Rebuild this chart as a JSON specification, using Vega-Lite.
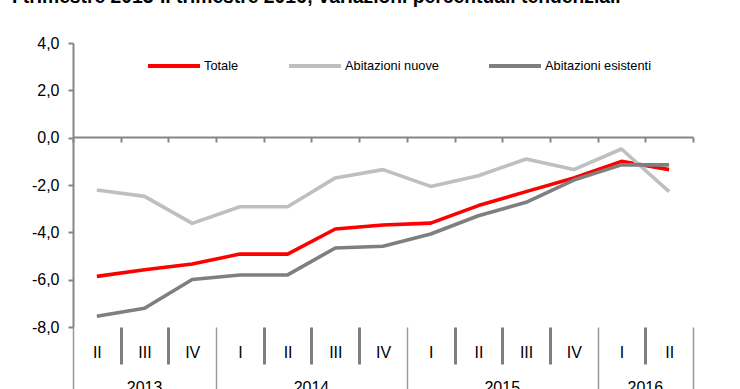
{
  "$schema": "https://vega.github.io/schema/vega-lite/v6.json",
  "autosize": {"type": "none"},
  "width": 620,
  "height": 284,
  "padding": {"left": 73, "top": 43, "right": 47, "bottom": 62},
  "title": {
    "text": "I trimestre 2013-II trimestre 2016; variazioni percentuali tendenziali",
    "anchor": "start",
    "frame": "group",
    "dx": -61,
    "offset": 9,
    "fontSize": 19.3,
    "fontWeight": "bold",
    "font": "Liberation Sans",
    "color": "#000000",
    "baseline": "bottom"
  },
  "datasets": {
    "serie": [
      {"q": "2013-II", "serie": "Totale", "valore": -5.86},
      {"q": "2013-III", "serie": "Totale", "valore": -5.58},
      {"q": "2013-IV", "serie": "Totale", "valore": -5.34},
      {"q": "2014-I", "serie": "Totale", "valore": -4.92},
      {"q": "2014-II", "serie": "Totale", "valore": -4.92},
      {"q": "2014-III", "serie": "Totale", "valore": -3.86},
      {"q": "2014-IV", "serie": "Totale", "valore": -3.69},
      {"q": "2015-I", "serie": "Totale", "valore": -3.61},
      {"q": "2015-II", "serie": "Totale", "valore": -2.87},
      {"q": "2015-III", "serie": "Totale", "valore": -2.28},
      {"q": "2015-IV", "serie": "Totale", "valore": -1.70},
      {"q": "2016-I", "serie": "Totale", "valore": -1.00},
      {"q": "2016-II", "serie": "Totale", "valore": -1.35},
      {"q": "2013-II", "serie": "Abitazioni nuove", "valore": -2.21},
      {"q": "2013-III", "serie": "Abitazioni nuove", "valore": -2.48},
      {"q": "2013-IV", "serie": "Abitazioni nuove", "valore": -3.62},
      {"q": "2014-I", "serie": "Abitazioni nuove", "valore": -2.92},
      {"q": "2014-II", "serie": "Abitazioni nuove", "valore": -2.92},
      {"q": "2014-III", "serie": "Abitazioni nuove", "valore": -1.70},
      {"q": "2014-IV", "serie": "Abitazioni nuove", "valore": -1.35},
      {"q": "2015-I", "serie": "Abitazioni nuove", "valore": -2.06},
      {"q": "2015-II", "serie": "Abitazioni nuove", "valore": -1.61},
      {"q": "2015-III", "serie": "Abitazioni nuove", "valore": -0.90},
      {"q": "2015-IV", "serie": "Abitazioni nuove", "valore": -1.35},
      {"q": "2016-I", "serie": "Abitazioni nuove", "valore": -0.48},
      {"q": "2016-II", "serie": "Abitazioni nuove", "valore": -2.28},
      {"q": "2013-II", "serie": "Abitazioni esistenti", "valore": -7.55},
      {"q": "2013-III", "serie": "Abitazioni esistenti", "valore": -7.21},
      {"q": "2013-IV", "serie": "Abitazioni esistenti", "valore": -5.99},
      {"q": "2014-I", "serie": "Abitazioni esistenti", "valore": -5.80},
      {"q": "2014-II", "serie": "Abitazioni esistenti", "valore": -5.80},
      {"q": "2014-III", "serie": "Abitazioni esistenti", "valore": -4.66},
      {"q": "2014-IV", "serie": "Abitazioni esistenti", "valore": -4.59},
      {"q": "2015-I", "serie": "Abitazioni esistenti", "valore": -4.07},
      {"q": "2015-II", "serie": "Abitazioni esistenti", "valore": -3.30},
      {"q": "2015-III", "serie": "Abitazioni esistenti", "valore": -2.73},
      {"q": "2015-IV", "serie": "Abitazioni esistenti", "valore": -1.79},
      {"q": "2016-I", "serie": "Abitazioni esistenti", "valore": -1.15},
      {"q": "2016-II", "serie": "Abitazioni esistenti", "valore": -1.15}
    ],
    "anni": [
      {"anno": "2013", "q": "2013-III"},
      {"anno": "2014", "q": "2014-III"},
      {"anno": "2015", "q": "2015-III"},
      {"anno": "2016", "q": "2016-II"}
    ]
  },
  "layer": [
    {
      "data": {"name": "serie"},
      "mark": {"type": "line", "strokeWidth": 3.6, "strokeJoin": "round"},
      "encoding": {
        "x": {
          "field": "q",
          "type": "nominal",
          "bandPosition": 0.5,
          "scale": {
            "type": "band",
            "domain": ["2013-II", "2013-III", "2013-IV", "2014-I", "2014-II", "2014-III", "2014-IV", "2015-I", "2015-II", "2015-III", "2015-IV", "2016-I", "2016-II"],
            "paddingInner": 0,
            "paddingOuter": 0
          },
          "axis": {
            "orient": "bottom",
            "title": null,
            "domain": false,
            "grid": false,
            "tickBand": "extent",
            "tickSize": 37,
            "tickWidth": 3,
            "tickColor": "#7f7f7f",
            "tickOpacity": {
              "condition": {"test": "datum.extra || indexof(['2013-IV','2014-IV','2015-IV','2016-II'], datum.value) >= 0", "value": 0},
              "value": 1
            },
            "labelExpr": "split(datum.value, '-')[1]",
            "labelFont": "Liberation Sans",
            "labelFontSize": 16,
            "labelColor": "#000000",
            "labelBaseline": "middle",
            "labelPadding": -12,
            "labelAngle": 0
          }
        },
        "y": {
          "field": "valore",
          "type": "quantitative",
          "scale": {"domain": [-8, 4], "nice": false, "zero": false},
          "axis": {
            "values": [-8, -6, -4, -2, 0, 2, 4],
            "title": null,
            "grid": false,
            "labelExpr": "replace((datum.value < 0 ? '-' : '') + format(abs(datum.value), '.1f'), '.', ',')",
            "domainColor": "#868686",
            "domainWidth": 2,
            "tickColor": "#868686",
            "tickWidth": 2,
            "tickSize": 5,
            "labelPadding": 9,
            "labelFont": "Liberation Sans",
            "labelFontSize": 16,
            "labelColor": "#000000"
          }
        },
        "color": {
          "field": "serie",
          "type": "nominal",
          "scale": {
            "domain": ["Totale", "Abitazioni nuove", "Abitazioni esistenti"],
            "range": ["#ff0000", "#bfbfbf", "#7f7f7f"]
          },
          "legend": {
            "title": null,
            "orient": "none",
            "legendX": 73,
            "legendY": -5,
            "direction": "horizontal",
            "symbolType": "stroke",
            "symbolSize": 2704,
            "symbolStrokeWidth": 4,
            "labelFont": "Liberation Sans",
            "labelFontSize": 12.8,
            "labelColor": "#000000",
            "labelOffset": 2,
            "columnPadding": 42,
            "padding": 0
          }
        }
      }
    },
    {
      "data": {"name": "anni"},
      "transform": [{"filter": "datum.anno === '2013'"}],
      "mark": {"type": "text", "baseline": "top", "fontSize": 16, "font": "Liberation Sans", "fill": "#000000"},
      "encoding": {
        "x": {
          "field": "q",
          "type": "nominal",
          "bandPosition": 0.5,
          "axis": {
            "orient": "bottom",
            "title": null,
            "domain": false,
            "labels": false,
            "grid": false,
            "tickBand": "extent",
            "tickSize": 70,
            "tickWidth": 1.5,
            "tickColor": "#999999",
            "tickOpacity": {
              "condition": {"test": "datum.extra || indexof(['2013-IV','2014-IV','2015-IV','2016-II'], datum.value) >= 0", "value": 1},
              "value": 0
            }
          }
        },
        "y": {"datum": -10.24, "type": "quantitative"},
        "text": {"field": "anno"}
      }
    },
    {
      "data": {"name": "anni"},
      "transform": [{"filter": "datum.anno !== '2013'"}],
      "mark": {"type": "text", "baseline": "top", "fontSize": 16, "font": "Liberation Sans", "fill": "#000000"},
      "encoding": {
        "x": {
          "field": "q",
          "type": "nominal",
          "bandPosition": 0,
          "axis": {
            "orient": "bottom",
            "offset": -190,
            "title": null,
            "domain": true,
            "domainColor": "#868686",
            "domainWidth": 2,
            "labels": false,
            "grid": false,
            "tickBand": "extent",
            "tickSize": 5,
            "tickWidth": 2,
            "tickColor": "#868686"
          }
        },
        "y": {"datum": -10.24, "type": "quantitative"},
        "text": {"field": "anno"}
      }
    }
  ],
  "resolve": {"axis": {"x": "independent"}},
  "config": {
    "view": {"stroke": null},
    "font": "Liberation Sans"
  }
}
